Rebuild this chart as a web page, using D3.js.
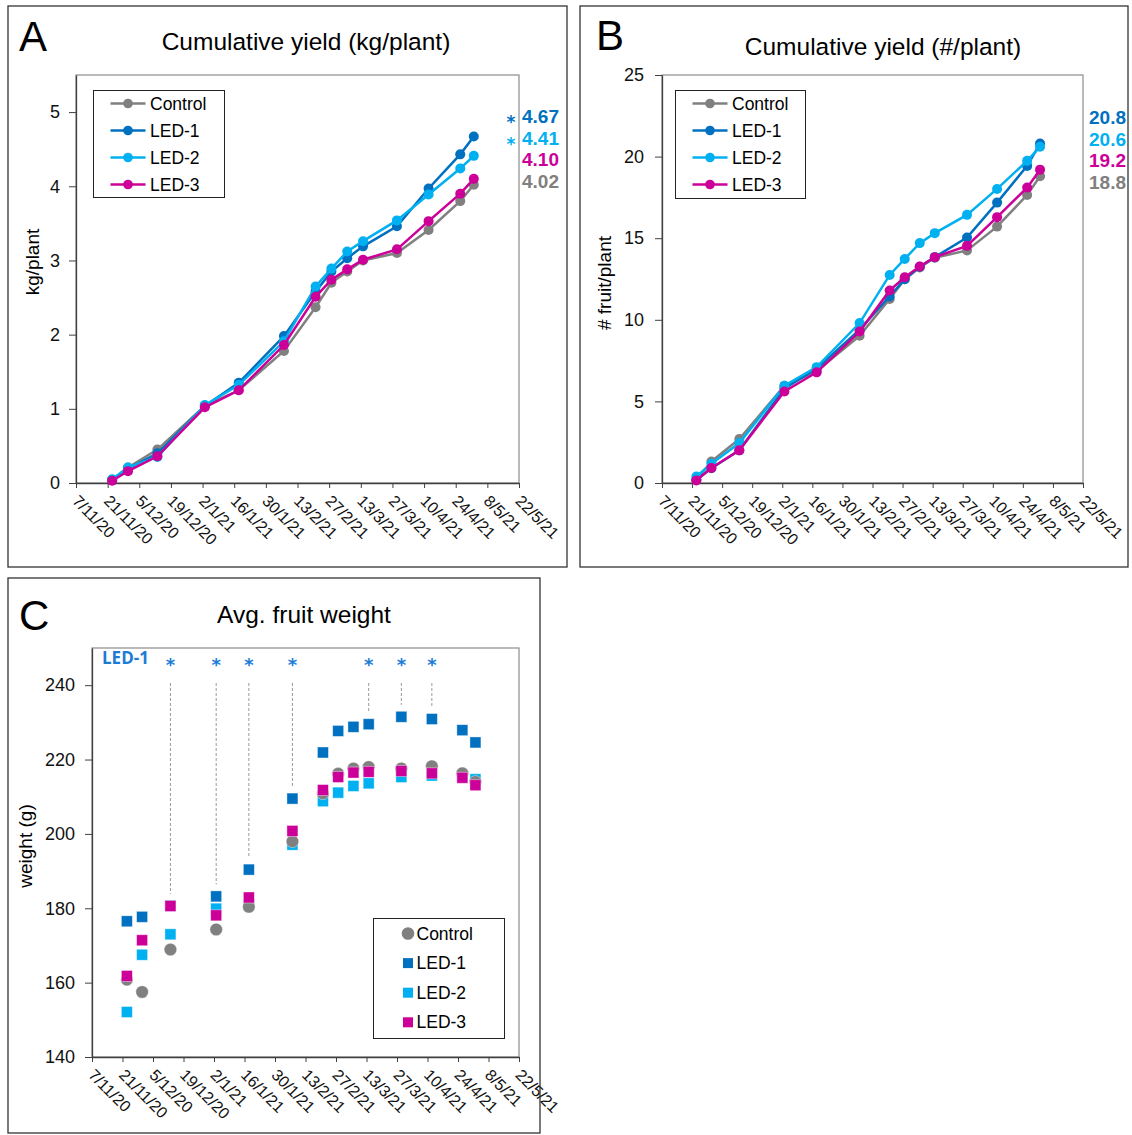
<!DOCTYPE html>
<html>
<head>
<meta charset="utf-8">
<script src="https://cdn.jsdelivr.net/npm/d3@7"></script>
<style>
  html, body { margin: 0; padding: 0; background: #fff; }
  svg { display: block; font-family: "Liberation Sans", Arial, sans-serif; }
</style>
</head>
<body>
<svg id="fig" width="1132" height="1135"></svg>
<script>
// ---- data ----
const harvestDates = ["2020-11-23", "2020-11-30", "2020-12-13", "2021-01-03", "2021-01-18", "2021-02-07", "2021-02-21",
  "2021-02-28", "2021-03-07", "2021-03-14", "2021-03-29", "2021-04-12", "2021-04-26", "2021-05-02"];
const tickDates = ["2020-11-07", "2020-11-21", "2020-12-05", "2020-12-19", "2021-01-02", "2021-01-16", "2021-01-30",
  "2021-02-13", "2021-02-27", "2021-03-13", "2021-03-27", "2021-04-10", "2021-04-24", "2021-05-08", "2021-05-22"];

const seriesNames = ["Control", "LED-1", "LED-2", "LED-3"];
const seriesColors = ["#808080", "#0070C0", "#00B0F0", "#CC0099"];

// A: cumulative yield kg/plant
const kgControl = [0.04, 0.21, 0.45, 1.04, 1.25, 1.78, 2.37, 2.70, 2.85, 3.00, 3.10, 3.41, 3.80, 4.02];
const kgLed1 = [0.04, 0.19, 0.40, 1.04, 1.35, 1.98, 2.58, 2.85, 3.03, 3.19, 3.46, 3.97, 4.43, 4.67];
const kgLed2 = [0.05, 0.21, 0.35, 1.05, 1.32, 1.91, 2.65, 2.89, 3.12, 3.26, 3.54, 3.89, 4.24, 4.41];
const kgLed3 = [0.03, 0.16, 0.36, 1.02, 1.25, 1.86, 2.51, 2.74, 2.88, 3.01, 3.15, 3.53, 3.90, 4.10];
const kgStars = ["", "*", "*", ""];
const kgTicks = [0, 1, 2, 3, 4, 5];

// B: cumulative yield fruit/plant
const fruitControl = [0.2, 1.32, 2.69, 5.96, 6.85, 9.02, 11.27, 12.49, 13.2, 13.8, 14.25, 15.71, 17.65, 18.8];
const fruitLed1 = [0.2, 0.9, 2.0, 5.8, 7.0, 9.4, 11.43, 12.49, 13.25, 13.84, 15.04, 17.18, 19.43, 20.8];
const fruitLed2 = [0.4, 1.18, 2.45, 5.96, 7.1, 9.8, 12.75, 13.73, 14.7, 15.31, 16.43, 18.02, 19.74, 20.6];
const fruitLed3 = [0.16, 0.92, 2.0, 5.61, 6.78, 9.28, 11.8, 12.61, 13.27, 13.84, 14.53, 16.29, 18.1, 19.2];
const fruitStars = ["", "", "", ""];
const fruitTicks = [0, 5, 10, 15, 20, 25];

// C: average fruit weight (g)
const weightControl = [160.8, 157.5, 168.9, 174.3, 180.4, 198.0, 210.9, 216.2, 217.6, 218.0, 217.6, 218.2, 216.3, 214.0];
const weightLed1 = [176.5, 177.7, 180.7, 183.2, 190.4, 209.5, 221.9, 227.7, 228.8, 229.5, 231.5, 230.9, 227.9, 224.6];
const weightLed2 = [152.1, 167.5, 173.0, 179.9, 180.8, 197.1, 208.8, 211.1, 212.9, 213.6, 215.3, 215.7, 215.5, 214.7];
const weightLed3 = [161.8, 171.4, 180.6, 178.1, 182.9, 200.8, 211.8, 215.3, 216.5, 216.7, 216.9, 216.3, 215.1, 213.1];
const weightSigIdx = [2, 3, 4, 5, 9, 10, 11];
const weightTicks = [140, 160, 180, 200, 220, 240];

// ---- helpers ----
const FONT = "Liberation Sans, Arial, sans-serif";
const STAR_FONT = "DejaVu Sans, sans-serif";
const parseDay = d3.utcParse("%Y-%m-%d");
const fmtTick = d3.utcFormat("%-d/%-m/%y");
const dates = harvestDates.map(parseDay);
const ticks = tickDates.map(parseDay);

const svg = d3.select("#fig");
svg.append("rect").attr("width", 1132).attr("height", 1135).attr("fill", "#fff");

function frame(x, y, w, h) {
  svg.append("rect").attr("x", x).attr("y", y).attr("width", w).attr("height", h)
    .attr("fill", "none").attr("stroke", "#333").attr("stroke-width", 1.3);
}

function text(g, str, x, y, opts = {}) {
  return g.append("text").attr("x", x).attr("y", y)
    .attr("font-size", opts.size || 18)
    .attr("font-weight", opts.weight || null)
    .attr("font-family", opts.family || FONT)
    .attr("fill", opts.color || "#000")
    .attr("text-anchor", opts.anchor || "start")
    .text(str);
}

function axes(g, x, y, p) {
  // plot area border (light), then axes
  g.append("rect").attr("x", p.left).attr("y", p.top)
    .attr("width", p.right - p.left).attr("height", p.bottom - p.top)
    .attr("fill", "none").attr("stroke", "#8c8c8c").attr("stroke-width", 1.2);

  g.append("g")
    .attr("transform", `translate(0,${p.bottom})`)
    .call(d3.axisBottom(x).tickValues(ticks).tickSize(5).tickSizeOuter(0).tickFormat(fmtTick))
    .attr("font-family", FONT).attr("font-size", 16)
    .call((a) => a.select(".domain").attr("stroke", "#404040").attr("stroke-width", 1.3))
    .call((a) => a.selectAll(".tick line").attr("stroke", "#404040"))
    .call((a) => a.selectAll(".tick text")
      .attr("y", null).attr("dy", "0.36em").attr("fill", "#111")
      .attr("text-anchor", "start")
      .attr("transform", "translate(-1,15) rotate(45)"));

  g.append("g")
    .attr("transform", `translate(${p.left},0)`)
    .call(d3.axisLeft(y).tickValues(p.yTicks).tickSize(7).tickPadding(p.yPad).tickSizeOuter(0).tickFormat(d3.format("~f")))
    .attr("font-family", FONT).attr("font-size", 18)
    .call((a) => a.select(".domain").attr("stroke", "#404040").attr("stroke-width", 1.3))
    .call((a) => a.selectAll(".tick line").attr("stroke", "#404040"))
    .call((a) => a.selectAll(".tick text").attr("fill", "#111"));
}

// ---- line panels (A, B) ----
function linePanel(p) {
  const g = svg.append("g");
  frame(p.frame[0], p.frame[1], p.frame[2], p.frame[3]);
  text(g, p.letter, p.letterPos[0], p.letterPos[1], { size: 42 });
  text(g, p.title, p.titlePos[0], p.titlePos[1], { size: 24.5, anchor: "middle" });
  text(g, p.yLabel, 0, 0, { size: 19, anchor: "middle" })
    .attr("dy", "0.35em")
    .attr("transform", `translate(${p.yLabelPos[0]},${p.yLabelPos[1]}) rotate(-90)`);

  const x = d3.scaleUtc().domain([ticks[0], ticks[ticks.length - 1]]).range([p.left, p.right]);
  const y = d3.scaleLinear().domain(p.yDomain).range([p.bottom, p.top]);
  axes(g, x, y, p);

  const series = seriesNames.map((name, i) => ({
    name, color: seriesColors[i], star: p.stars[i],
    points: p.values[i].map((v, j) => ({ date: dates[j], v })),
  }));

  const line = d3.line().x((d) => x(d.date)).y((d) => y(d.v));
  const sg = g.selectAll(".series").data(series).join("g").attr("class", "series");
  sg.append("path").attr("d", (d) => line(d.points))
    .attr("fill", "none").attr("stroke", (d) => d.color).attr("stroke-width", 2.5);
  sg.selectAll("circle").data((d) => d.points.map((pt) => ({ ...pt, color: d.color })))
    .join("circle").attr("cx", (d) => x(d.date)).attr("cy", (d) => y(d.v)).attr("r", 5)
    .attr("fill", (d) => d.color);

  // final value labels, stacked by value
  const ranked = series.slice().sort((a, b) => b.points[b.points.length - 1].v - a.points[a.points.length - 1].v);
  ranked.forEach((s, i) => {
    const yy = p.labelY0 + i * 21.5;
    text(g, p.fmt(s.points[s.points.length - 1].v), p.labelX, yy, { size: 19, weight: "bold", color: s.color });
    if (s.star) {
      text(g, s.star, p.labelX - 11, yy + 5, { size: 17, weight: "bold", color: s.color, anchor: "middle", family: STAR_FONT });
    }
  });

  // legend
  const [bx, by, bw, bh] = p.legend;
  g.append("rect").attr("x", bx).attr("y", by).attr("width", bw).attr("height", bh)
    .attr("fill", "#fff").attr("stroke", "#222").attr("stroke-width", 1);
  series.forEach((s, i) => {
    const ly = by + 13 + i * 27;
    g.append("line").attr("x1", bx + 17).attr("x2", bx + 52).attr("y1", ly).attr("y2", ly)
      .attr("stroke", s.color).attr("stroke-width", 2.5);
    g.append("circle").attr("cx", bx + 34.5).attr("cy", ly).attr("r", 4.8).attr("fill", s.color);
    text(g, s.name, bx + 56.5, ly, { size: 17.5 }).attr("dy", "0.35em");
  });
}

linePanel({
  frame: [8, 6, 559, 561], letter: "A", letterPos: [19, 51], title: "Cumulative yield (kg/plant)", titlePos: [306, 50],
  yLabel: "kg/plant", yLabelPos: [32, 262],
  left: 76, right: 519, top: 75, bottom: 483, yDomain: [0, 5.5], yTicks: kgTicks, yPad: 9,
  values: [kgControl, kgLed1, kgLed2, kgLed3], stars: kgStars, fmt: d3.format(".2f"),
  labelX: 522, labelY0: 123.3, legend: [93.5, 90.5, 131, 107],
});

linePanel({
  frame: [580, 6, 548, 561], letter: "B", letterPos: [596, 50], title: "Cumulative yield (#/plant)", titlePos: [883, 55],
  yLabel: "# fruit/plant", yLabelPos: [604, 283],
  left: 662, right: 1083, top: 75, bottom: 483, yDomain: [0, 25], yTicks: fruitTicks, yPad: 11,
  values: [fruitControl, fruitLed1, fruitLed2, fruitLed3], stars: fruitStars, fmt: d3.format(".1f"),
  labelX: 1089, labelY0: 124, legend: [675.5, 90.5, 130, 108],
});

// ---- scatter panel (C) ----
(function weightPanel() {
  const p = { left: 92, right: 519, top: 648, bottom: 1057, yTicks: weightTicks, yPad: 10 };
  const g = svg.append("g");
  frame(8, 578, 532, 555);
  text(g, "C", 19, 630, { size: 42 });
  text(g, "Avg. fruit weight", 304, 623, { size: 24.5, anchor: "middle" });
  text(g, "weight (g)", 0, 0, { size: 19, anchor: "middle" })
    .attr("dy", "0.35em").attr("transform", "translate(25,846) rotate(-90)");

  const x = d3.scaleUtc().domain([ticks[0], ticks[ticks.length - 1]]).range([p.left, p.right]);
  const y = d3.scaleLinear().domain([140, 250]).range([p.bottom, p.top]);
  axes(g, x, y, p);

  const values = [weightControl, weightLed1, weightLed2, weightLed3];
  const starColor = "#1C7CD5";

  // significance markers for LED-1
  text(g, "LED-1", 102, 664, { size: 17, weight: "bold", color: starColor, family: "Open Sans, sans-serif" });
  weightSigIdx.forEach((i) => {
    const cx = x(dates[i]);
    text(g, "*", cx, 670.5, { size: 18, weight: "bold", color: starColor, anchor: "middle", family: STAR_FONT });
    g.append("line").attr("x1", cx).attr("x2", cx).attr("y1", 683).attr("y2", y(weightLed1[i]) - 12)
      .attr("stroke", "#999").attr("stroke-width", 1).attr("stroke-dasharray", "3,2");
  });

  const sq = 11;
  const drawOrder = [2, 0, 1, 3];
  drawOrder.forEach((k) => {
    const pts = values[k].map((v, j) => ({ date: dates[j], v }));
    if (k === 0) {
      g.append("g").selectAll("circle").data(pts).join("circle")
        .attr("cx", (d) => x(d.date)).attr("cy", (d) => y(d.v)).attr("r", 6.3)
        .attr("fill", seriesColors[k]).attr("stroke", "#fff").attr("stroke-opacity", 0.5).attr("stroke-width", 0.8);
    } else {
      g.append("g").selectAll("rect").data(pts).join("rect")
        .attr("x", (d) => x(d.date) - sq / 2).attr("y", (d) => y(d.v) - sq / 2)
        .attr("width", sq).attr("height", sq)
        .attr("fill", seriesColors[k]).attr("stroke", "#fff").attr("stroke-opacity", 0.5).attr("stroke-width", 0.8);
    }
  });

  // legend
  const bx = 373.5, by = 918.5;
  g.append("rect").attr("x", bx).attr("y", by).attr("width", 131).attr("height", 120)
    .attr("fill", "#fff").attr("stroke", "#222").attr("stroke-width", 1);
  seriesNames.forEach((name, i) => {
    const ly = by + 15 + i * 29.6;
    if (i === 0) {
      g.append("circle").attr("cx", bx + 34.5).attr("cy", ly).attr("r", 6.3).attr("fill", seriesColors[i]);
    } else {
      g.append("rect").attr("x", bx + 34.5 - 5).attr("y", ly - 5).attr("width", 10).attr("height", 10)
        .attr("fill", seriesColors[i]);
    }
    text(g, name, bx + 43, ly, { size: 17.5 }).attr("dy", "0.35em");
  });
})();
</script>
</body>
</html>
